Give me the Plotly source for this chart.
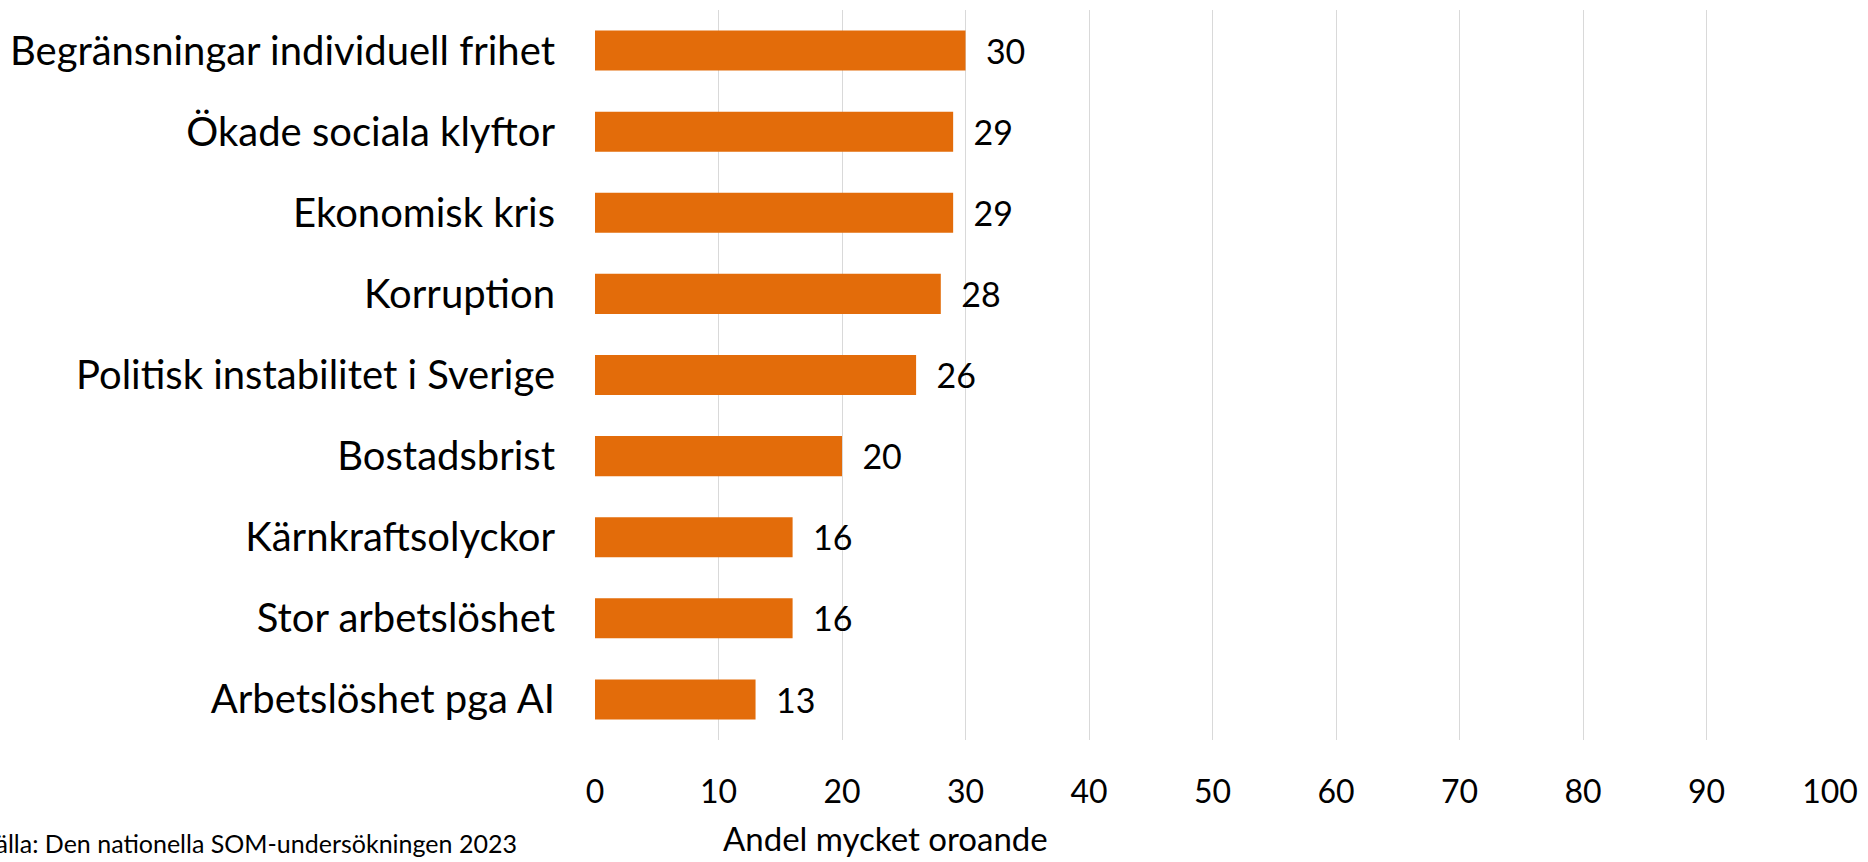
import plotly.graph_objects as go

categories = [
    "Begränsningar individuell frihet",
    "Ökade sociala klyftor",
    "Ekonomisk kris",
    "Korruption",
    "Politisk instabilitet i Sverige",
    "Bostadsbrist",
    "Kärnkraftsolyckor",
    "Stor arbetslöshet",
    "Arbetslöshet pga AI",
]
values = [30, 29, 29, 28, 26, 20, 16, 16, 13]
x_ticks = [0, 10, 20, 30, 40, 50, 60, 70, 80, 90, 100]
x_title = "Andel mycket oroande"
source_text = "Källa: Den nationella SOM-undersökningen 2023"

FONT = "Lato"
BAR_COLOR = "#E36C0A"

fig = go.Figure(
    go.Bar(
        x=values,
        y=categories,
        orientation="h",
        marker=dict(color=BAR_COLOR, line=dict(width=0)),
        text=values,
        texttemplate="\u00a0\u00a0%{x}",
        textposition="outside",
        textfont=dict(family=FONT, size=39, color="#000000"),
        cliponaxis=False,
    )
)

W, H = 1868, 862
ml, mr, mt, mb = 594, 34, 10, 122
pw, ph = W - ml - mr, H - mt - mb

fig.update_layout(
    width=W,
    height=H,
    margin=dict(l=ml, r=mr, t=mt, b=mb, pad=0),
    paper_bgcolor="white",
    plot_bgcolor="white",
    bargap=0.506,
    showlegend=False,
    font=dict(family=FONT, color="#000000"),
)

fig.update_xaxes(
    range=[0, 100],
    tickvals=x_ticks,
    ticktext=[str(t) for t in x_ticks],
    showgrid=True,
    gridcolor="#D9D9D9",
    gridwidth=1,
    zeroline=False,
    showline=False,
    ticks="",
    tickfont=dict(family=FONT, size=32, color="#000000"),
    ticklabelstandoff=30,
    fixedrange=True,
)

fig.update_yaxes(
    autorange="reversed",
    showgrid=False,
    zeroline=False,
    showline=False,
    ticks="",
    tickfont=dict(family=FONT, size=40, color="#000000"),
    ticklabelstandoff=39,
    fixedrange=True,
)

fig.add_annotation(
    text=x_title,
    xref="paper",
    yref="paper",
    x=(886 - ml) / pw,
    y=(H - mb - 838) / ph,
    xanchor="center",
    yanchor="middle",
    showarrow=False,
    font=dict(family=FONT, size=33, color="#000000"),
)

fig.add_annotation(
    text=source_text,
    xref="paper",
    yref="paper",
    x=(518 - ml) / pw,
    y=(H - mb - 843) / ph,
    xanchor="right",
    yanchor="middle",
    showarrow=False,
    font=dict(family=FONT, size=25, color="#000000"),
)

fig.write_html(
    "out.html",
    config={"displayModeBar": False},
    post_script="document.body.style.margin='0';document.body.style.overflow='hidden';",
)
